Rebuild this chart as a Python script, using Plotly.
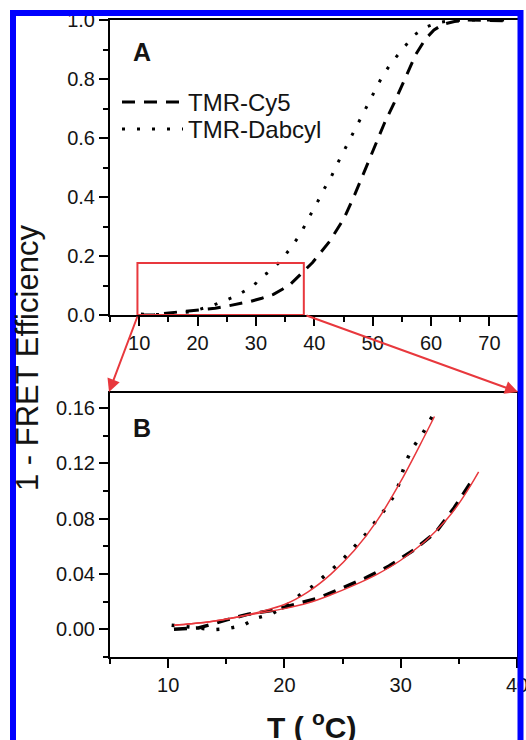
import plotly.graph_objects as go

W, H = 526, 740

# ---------------- data ----------------
t_cy5 = [10.5, 12.6, 15.1, 16.9, 18.9, 20.9, 23.0, 25.0, 27.0, 29.0, 31.0, 33.0, 34.6, 36.0,
         37.5, 38.8, 39.7, 42.6, 45.1, 46.9, 48.6, 50.1, 52.0, 53.7, 55.7, 57.4, 59.0, 60.5,
         62.0, 64.0, 66.0, 68.0, 70.0, 72.5]
v_cy5 = [0.0, 0.001, 0.007, 0.011, 0.0136, 0.018, 0.0228, 0.030, 0.0373, 0.0458, 0.0567, 0.070,
         0.088, 0.106, 0.135, 0.16, 0.178, 0.249, 0.328, 0.407, 0.488, 0.56, 0.65, 0.72, 0.81,
         0.884, 0.935, 0.966, 0.985, 0.995, 1.0, 1.0, 0.998, 0.997]

t_dab = [10.3, 11.4, 12.7, 13.9, 15.1, 16.4, 17.6, 18.85, 20.1, 21.3, 22.4, 23.7, 24.85, 25.9,
         27.0, 28.0, 28.9, 29.65, 30.05, 30.4, 31.0, 31.85, 32.7, 34.3, 36.0, 37.7, 38.9, 40.3,
         41.5, 42.9, 44.0, 45.3, 46.4, 47.7, 48.9, 50.1, 51.4, 53.0, 55.0, 57.1, 59.0, 61.0,
         63.0, 66.0, 69.0, 72.5]
v_dab = [0.003, 0.002, 0.001, -0.0002, 0.0005, 0.0027, 0.0082, 0.011, 0.0167, 0.0247, 0.031,
         0.0405, 0.049, 0.0587, 0.0689, 0.0798, 0.0895, 0.0999, 0.110, 0.1205, 0.131, 0.141,
         0.154, 0.184, 0.229, 0.277, 0.325, 0.373, 0.421, 0.469, 0.515, 0.565, 0.612, 0.658,
         0.706, 0.754, 0.80, 0.85, 0.90, 0.949, 0.975, 0.99, 0.997, 1.0, 1.0, 1.0]

# panel B shows the low-temperature part only
b_tmax_cy5 = 36.6
b_tmax_dab = 32.8

# red fitted curves in panel B
fit_dab_t = [10.5, 12, 14, 16, 18, 20, 22, 24, 26, 28, 30, 32, 32.9]
fit_dab_v = [0.003, 0.004, 0.006, 0.009, 0.013, 0.018, 0.027, 0.040, 0.057, 0.079, 0.107, 0.139, 0.154]
fit_cy5_t = [10.5, 12, 14, 16, 18, 20, 22, 24, 26, 28, 30, 32, 33, 34, 35, 36, 36.7]
fit_cy5_v = [0.003, 0.004, 0.006, 0.009, 0.012, 0.015, 0.019, 0.025, 0.032, 0.040, 0.050, 0.063,
             0.071, 0.080, 0.091, 0.104, 0.114]

series_names = ["TMR-Cy5", "TMR-Dabcyl"]
xticks_a = [10, 20, 30, 40, 50, 60, 70]
yticks_a = [0.0, 0.2, 0.4, 0.6, 0.8, 1.0]
xticks_b = [10, 20, 30, 40]
yticks_b = [0.00, 0.04, 0.08, 0.12, 0.16]
zoom_box = dict(x0=9.7, x1=38.2, y0=0.0, y1=0.176)

# ---------------- styling ----------------
FONT = "Liberation Sans, Arial, sans-serif"
INK = "#141414"
RED = "#e8383d"
BLUE = "#0000ff"
DASH = "13px,9px"
DOT = "3px,12px"


def px_x(p):
    return p / W


def px_y(p):
    return 1 - p / H


fig = go.Figure()

# Panel A
fig.add_trace(go.Scatter(x=t_cy5, y=v_cy5, mode="lines", name=series_names[0],
                         line=dict(color="black", width=3, dash=DASH),
                         xaxis="x", yaxis="y", showlegend=False))
fig.add_trace(go.Scatter(x=t_dab, y=v_dab, mode="lines", name=series_names[1],
                         line=dict(color="black", width=3, dash=DOT),
                         xaxis="x", yaxis="y", showlegend=False))

# Panel B
bx_cy5 = [t for t in t_cy5 if t <= b_tmax_cy5]
by_cy5 = [v for t, v in zip(t_cy5, v_cy5) if t <= b_tmax_cy5]
bx_dab = [t for t in t_dab if t <= b_tmax_dab]
by_dab = [v for t, v in zip(t_dab, v_dab) if t <= b_tmax_dab]
fig.add_trace(go.Scatter(x=bx_cy5, y=by_cy5, mode="lines", name=series_names[0],
                         line=dict(color="black", width=3.5, dash=DASH),
                         xaxis="x2", yaxis="y2", showlegend=False))
fig.add_trace(go.Scatter(x=bx_dab, y=by_dab, mode="lines", name=series_names[1],
                         line=dict(color="black", width=3.5, dash=DOT),
                         xaxis="x2", yaxis="y2", showlegend=False))
fig.add_trace(go.Scatter(x=fit_dab_t, y=fit_dab_v, mode="lines", line_shape="spline",
                         line=dict(color=RED, width=1.5), xaxis="x2", yaxis="y2",
                         showlegend=False))
fig.add_trace(go.Scatter(x=fit_cy5_t, y=fit_cy5_v, mode="lines", line_shape="spline",
                         line=dict(color=RED, width=1.5), xaxis="x2", yaxis="y2",
                         showlegend=False))

tickfont = dict(family=FONT, size=20, color=INK)
common = dict(showgrid=False, zeroline=False, showline=True, linecolor="black", linewidth=2,
              mirror=True, ticks="outside", ticklen=9, tickwidth=2, tickcolor="black",
              tickfont=tickfont, automargin=False, ticklabeloverflow="allow")

fig.update_layout(
    width=W, height=H,
    margin=dict(l=0, r=0, t=0, b=0),
    paper_bgcolor="white", plot_bgcolor="white",
    showlegend=False,
    xaxis=dict(domain=[px_x(110), px_x(521)], range=[5, 75.4], anchor="y",
               tickvals=xticks_a,
               minor=dict(dtick=5, tick0=0, ticks="outside", ticklen=5, tickwidth=2,
                          tickcolor="black"),
               **common),
    yaxis=dict(domain=[px_y(315), px_y(20)], range=[0, 1.0], anchor="x",
               tickvals=yticks_a, tickformat=".1f",
               minor=dict(dtick=0.1, tick0=0, ticks="outside", ticklen=5, tickwidth=2,
                          tickcolor="black"),
               **common),
    xaxis2=dict(domain=[px_x(110), px_x(517)], range=[5, 40], anchor="y2",
                tickvals=xticks_b,
                minor=dict(dtick=5, tick0=0, ticks="outside", ticklen=5, tickwidth=2,
                           tickcolor="black"),
                **common),
    yaxis2=dict(domain=[px_y(657), px_y(393)], range=[-0.02, 0.171], anchor="x2",
                tickvals=yticks_b, tickformat=".2f",
                minor=dict(dtick=0.02, tick0=0, ticks="outside", ticklen=5, tickwidth=2,
                           tickcolor="black"),
                **common),
)

shapes = []
# zoom box in panel A
shapes.append(dict(type="rect", xref="x", yref="y", x0=zoom_box["x0"], x1=zoom_box["x1"],
                   y0=zoom_box["y0"], y1=zoom_box["y1"], line=dict(color=RED, width=2),
                   layer="above"))
# legend samples
shapes.append(dict(type="line", xref="paper", yref="paper", x0=px_x(122), x1=px_x(183),
                   y0=px_y(102), y1=px_y(102), line=dict(color="black", width=3, dash=DASH)))
shapes.append(dict(type="line", xref="paper", yref="paper", x0=px_x(122), x1=px_x(183),
                   y0=px_y(129), y1=px_y(129), line=dict(color="black", width=3, dash=DOT)))
# blue frame
shapes.append(dict(type="rect", xref="paper", yref="paper", x0=px_x(13), x1=px_x(520.5),
                   y0=px_y(13), y1=px_y(800), line=dict(color=BLUE, width=6), layer="above"))
fig.update_layout(shapes=shapes)


def label(text, x, y, size, xanchor="center", angle=0):
    return dict(text=text, x=px_x(x), y=px_y(y), xref="paper", yref="paper",
                xanchor=xanchor, yanchor="middle", textangle=angle, showarrow=False,
                font=dict(family=FONT, size=size, color=INK))


ann = []
ann.append(label("<b>A</b>", 142, 52, 25))
ann.append(label("<b>B</b>", 142, 428, 25))
ann.append(label(series_names[0], 186, 102, 24, xanchor="left"))
ann.append(label(series_names[1], 186, 129, 24, xanchor="left"))
# axis titles
ann.append(label("1\u00a0-\u00a0FRET Efficiency", 28, 358, 31, angle=-90))
ann.append(label("<b>T ( <sup>o</sup>C)</b>", 311, 725, 30))
# zoom arrows
ann.append(dict(x=px_x(109), y=px_y(392), xref="paper", yref="paper", ax=29, ay=-77,
                showarrow=True, arrowhead=2, arrowsize=1.3, arrowwidth=2, arrowcolor=RED,
                text=""))
ann.append(dict(x=px_x(518), y=px_y(392), xref="paper", yref="paper", ax=-213, ay=-77,
                showarrow=True, arrowhead=2, arrowsize=1.3, arrowwidth=2, arrowcolor=RED,
                text=""))
fig.update_layout(annotations=ann)

fig.write_html("out.html")
